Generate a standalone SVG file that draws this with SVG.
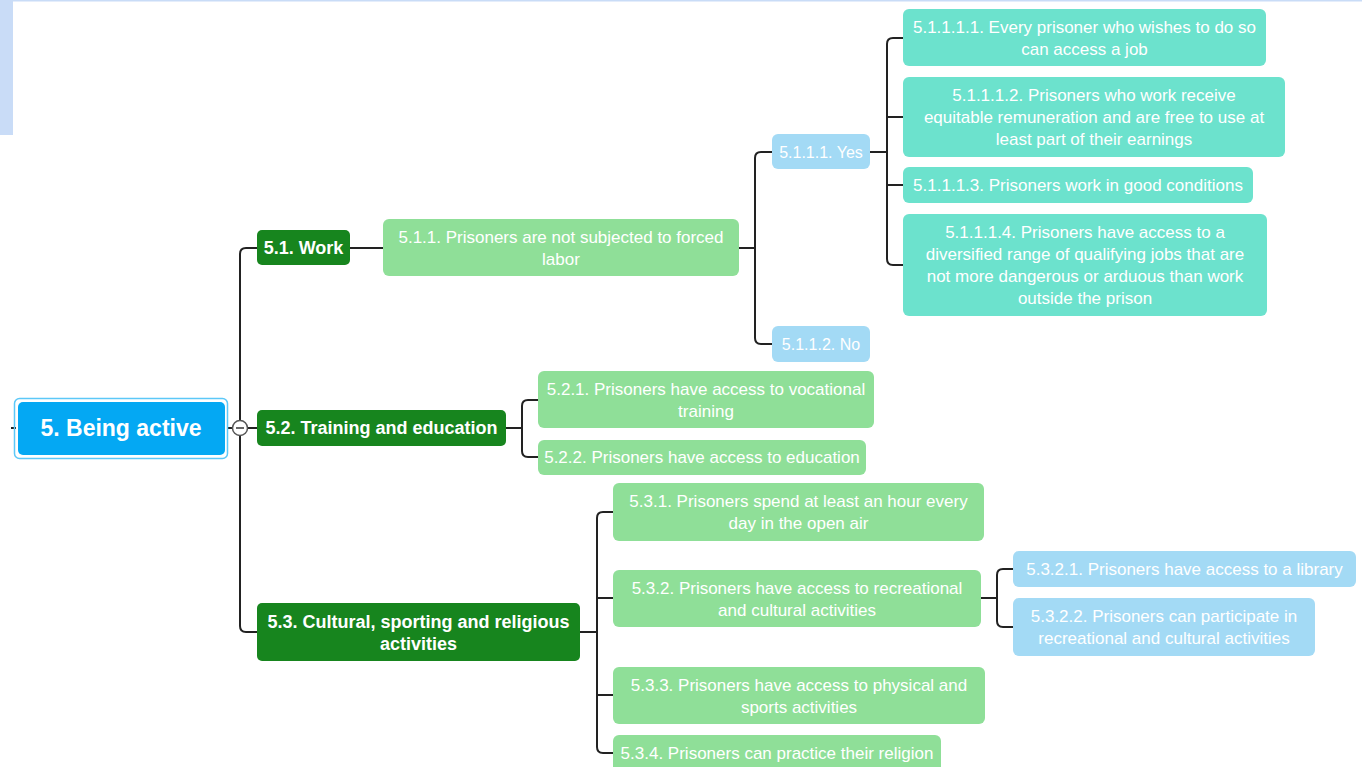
<svg xmlns="http://www.w3.org/2000/svg" width="1362" height="767" viewBox="0 0 1362 767">
<style>
text{font-family:"Liberation Sans",Arial,sans-serif;font-size:17px;fill:#ffffff;text-anchor:middle}
.b{font-weight:bold;font-size:18px}
.s{font-size:16px}
.dg{fill:#17851e}
.lg{fill:#8fdf98}
.tl{fill:#6ce2cd}
.lb{fill:#a3daf5}
.c{fill:none;stroke:#222;stroke-width:2}
</style>
<rect x="0" y="0" width="1362" height="1.5" fill="#c9dcf7"/>
<rect x="0" y="0" width="13" height="135" fill="#c9dcf7"/>
<g id="connectors">
<path class="c" d="M11,428 H16"/>
<path class="c" d="M228,428 H257"/>
<path class="c" d="M257,248 H246 Q240,248 240,254 V626 Q240,632 246,632 H257"/>
<path class="c" d="M350,248 H383"/>
<path class="c" d="M739,248 H755"/>
<path class="c" d="M772,152 H761 Q755,152 755,158 V338 Q755,344 761,344 H772"/>
<path class="c" d="M870,152 H887"/>
<path class="c" d="M903,38 H893 Q887,38 887,44 V259 Q887,265 893,265 H903"/>
<path class="c" d="M887,117 H903 M887,185 H903"/>
<path class="c" d="M506,428 H522"/>
<path class="c" d="M538,400 H528 Q522,400 522,406 V451 Q522,457 528,457 H538"/>
<path class="c" d="M580,632 H597"/>
<path class="c" d="M613,512 H603 Q597,512 597,518 V747 Q597,753 603,753 H613"/>
<path class="c" d="M597,598 H613 M597,695 H613"/>
<path class="c" d="M981,598 H997"/>
<path class="c" d="M1013,569 H1003 Q997,569 997,575 V621 Q997,627 1003,627 H1013"/>
</g>
<g id="root">
<rect x="14.5" y="398.5" width="213" height="60" rx="5" fill="none" stroke="#5cc8f8" stroke-width="1.5"/>
<rect x="18" y="402" width="207" height="53" rx="5" fill="#04a8f3"/>
<text class="b" x="121" y="436" style="font-size:23px">5. Being active</text>
</g>
<g id="collapse">
<circle cx="240" cy="428" r="7.5" fill="#fff" stroke="#555" stroke-width="1.5"/>
<path d="M236,428 H244" stroke="#333" stroke-width="1.5"/>
</g>
<g id="n5_1">
<rect class="dg" x="257" y="230" width="93" height="35" rx="5"/>
<text class="b" x="303.5" y="254">5.1. Work</text>
</g>
<g id="n5_1_1">
<rect class="lg" x="383" y="219" width="356" height="57" rx="6"/>
<text x="561" y="243">5.1.1. Prisoners are not subjected to forced</text>
<text x="561" y="265">labor</text>
</g>
<g id="n5_1_1_1">
<rect class="lb" x="772" y="134" width="98" height="35" rx="6"/>
<text class="s" x="821" y="157.5">5.1.1.1. Yes</text>
</g>
<g id="n5_1_1_2">
<rect class="lb" x="772" y="326" width="98" height="36" rx="6"/>
<text class="s" x="821" y="349.5">5.1.1.2. No</text>
</g>
<g id="n5_1_1_1_1">
<rect class="tl" x="903" y="9" width="363" height="57" rx="6"/>
<text x="1084.5" y="33">5.1.1.1.1. Every prisoner who wishes to do so</text>
<text x="1084.5" y="55">can access a job</text>
</g>
<g id="n5_1_1_1_2">
<rect class="tl" x="903" y="77" width="382" height="80" rx="6"/>
<text x="1094" y="101">5.1.1.1.2. Prisoners who work receive</text>
<text x="1094" y="123">equitable remuneration and are free to use at</text>
<text x="1094" y="145">least part of their earnings</text>
</g>
<g id="n5_1_1_1_3">
<rect class="tl" x="903" y="167" width="350" height="36" rx="6"/>
<text x="1078" y="191">5.1.1.1.3. Prisoners work in good conditions</text>
</g>
<g id="n5_1_1_1_4">
<rect class="tl" x="903" y="214" width="364" height="102" rx="6"/>
<text x="1085" y="238">5.1.1.1.4. Prisoners have access to a</text>
<text x="1085" y="260">diversified range of qualifying jobs that are</text>
<text x="1085" y="282">not more dangerous or arduous than work</text>
<text x="1085" y="304">outside the prison</text>
</g>
<g id="n5_2">
<rect class="dg" x="257" y="410" width="249" height="36" rx="5"/>
<text class="b" x="381.5" y="434">5.2. Training and education</text>
</g>
<g id="n5_2_1">
<rect class="lg" x="538" y="371" width="336" height="57" rx="6"/>
<text x="706" y="395">5.2.1. Prisoners have access to vocational</text>
<text x="706" y="417">training</text>
</g>
<g id="n5_2_2">
<rect class="lg" x="538" y="440" width="328" height="35" rx="6"/>
<text x="702" y="463">5.2.2. Prisoners have access to education</text>
</g>
<g id="n5_3">
<rect class="dg" x="257" y="603" width="323" height="58" rx="5"/>
<text class="b" x="418.5" y="628">5.3. Cultural, sporting and religious</text>
<text class="b" x="418.5" y="650">activities</text>
</g>
<g id="n5_3_1">
<rect class="lg" x="613" y="483" width="371" height="58" rx="6"/>
<text x="798.5" y="507">5.3.1. Prisoners spend at least an hour every</text>
<text x="798.5" y="529">day in the open air</text>
</g>
<g id="n5_3_2">
<rect class="lg" x="613" y="570" width="368" height="57" rx="6"/>
<text x="797" y="594">5.3.2. Prisoners have access to recreational</text>
<text x="797" y="616">and cultural activities</text>
</g>
<g id="n5_3_3">
<rect class="lg" x="613" y="667" width="372" height="57" rx="6"/>
<text x="799" y="691">5.3.3. Prisoners have access to physical and</text>
<text x="799" y="713">sports activities</text>
</g>
<g id="n5_3_4">
<rect class="lg" x="613" y="735" width="328" height="40" rx="6"/>
<text x="777" y="759">5.3.4. Prisoners can practice their religion</text>
</g>
<g id="n5_3_2_1">
<rect class="lb" x="1013" y="551" width="343" height="36" rx="6"/>
<text x="1184.5" y="575">5.3.2.1. Prisoners have access to a library</text>
</g>
<g id="n5_3_2_2">
<rect class="lb" x="1013" y="598" width="302" height="58" rx="6"/>
<text x="1164" y="622">5.3.2.2. Prisoners can participate in</text>
<text x="1164" y="644">recreational and cultural activities</text>
</g>
</svg>
